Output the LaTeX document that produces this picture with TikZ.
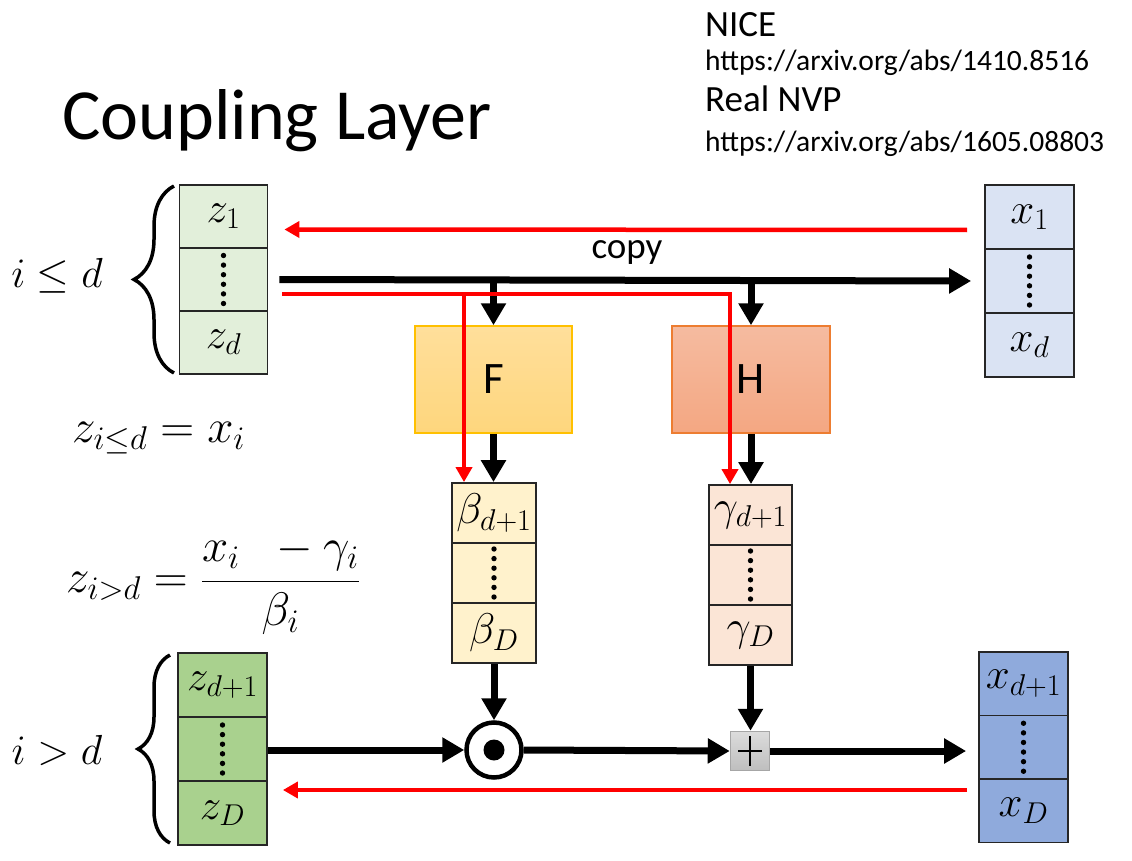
\RequirePackage{fix-cm}
\documentclass[tikz,border=0pt]{standalone}
\usepackage{fontspec}
\setmainfont{Carlito}
\usetikzlibrary{arrows.meta,calc,decorations.pathreplacing}
\definecolor{zAc}{HTML}{E2EFDA}
\definecolor{xAc}{HTML}{DAE3F3}
\definecolor{bc}{HTML}{FFF2CC}
\definecolor{gc}{HTML}{FBE5D6}
\definecolor{zBc}{HTML}{A9D18E}
\definecolor{xBc}{HTML}{8FAADC}
\definecolor{Ftop}{HTML}{FFDF9B}
\definecolor{Fbot}{HTML}{FED67D}
\definecolor{Fbd}{HTML}{FFC000}
\definecolor{Htop}{HTML}{F5BBA0}
\definecolor{Hbot}{HTML}{F4A782}
\definecolor{Hbd}{HTML}{ED7D31}
\definecolor{Ptop}{HTML}{DCDCDC}
\definecolor{Pbot}{HTML}{BEBEBE}
\definecolor{Pbd}{HTML}{A6A6A6}
\definecolor{cellbd}{HTML}{262626}
\begin{document}
\begin{tikzpicture}[x=1pt,y=-1pt,
  cell/.style={draw=cellbd, line width=1.8pt, inner sep=0pt, font=\fontsize{43}{43}\selectfont},
  blk/.style={line width=7pt, -{Triangle[length=22pt,width=24pt]}},
  redarr/.style={draw=red, line width=4.5pt, line join=miter, -{Triangle[length=15pt,width=16pt]}},
  fnbox/.style={line width=1.5pt, inner sep=0pt, minimum height=107pt, font=\fontsize{45}{45}\selectfont},
  bracestyle/.style={line width=3.5pt, decorate},
  lbl/.style={inner sep=0pt, font=\fontsize{42}{42}\selectfont},
  eq/.style={inner sep=0pt, font=\fontsize{47}{47}\selectfont}]
\useasboundingbox (0,0) rectangle (1132,861);

% title and references
\node[anchor=base west, inner sep=0pt, font=\fontsize{72}{72}\selectfont] (title) at (62,140) {Coupling Layer};
\node[anchor=base west, inner sep=0pt, font=\fontsize{37}{37}\selectfont] (nice) at (705,37) {NICE};
\node[anchor=base west, inner sep=0pt, font=\fontsize{29.5}{29.5}\selectfont] (url1) at (705,71) {https://arxiv.org/abs/1410.8516};
\node[anchor=base west, inner sep=0pt, font=\fontsize{37}{37}\selectfont] (nvp) at (705,112) {Real NVP};
\node[anchor=base west, inner sep=0pt, font=\fontsize{29.5}{29.5}\selectfont] (url2) at (705,152) {https://arxiv.org/abs/1605.08803};

% top z box
\node[cell, fill=zAc, minimum width=88pt, minimum height=63pt] (zA1) at (223.5,216.5) {$z_1$};
\node[cell, fill=zAc, minimum width=88pt, minimum height=63pt] (zA2) at (223.5,279.5) {};
\node[cell, fill=zAc, minimum width=88pt, minimum height=63pt] (zA3) at (223.5,342.5) {$z_d$};
% top x box
\node[cell, fill=xAc, minimum width=89pt, minimum height=64pt] (xA1) at (1029.5,217) {$x_1$};
\node[cell, fill=xAc, minimum width=89pt, minimum height=64pt] (xA2) at (1029.5,281) {};
\node[cell, fill=xAc, minimum width=89pt, minimum height=64pt] (xA3) at (1029.5,345) {$x_d$};
% beta box
\node[cell, fill=bc, minimum width=84pt, minimum height=60pt] (b1) at (494,513) {$\beta_{d+1}$};
\node[cell, fill=bc, minimum width=84pt, minimum height=60pt] (b2) at (494,573) {};
\node[cell, fill=bc, minimum width=84pt, minimum height=60pt] (b3) at (494,633) {$\beta_D$};
% gamma box
\node[cell, fill=gc, minimum width=83pt, minimum height=60pt] (g1) at (750.5,515) {$\gamma_{d+1}$};
\node[cell, fill=gc, minimum width=83pt, minimum height=60pt] (g2) at (750.5,575) {};
\node[cell, fill=gc, minimum width=83pt, minimum height=60pt] (g3) at (750.5,635) {$\gamma_D$};
% lower z box
\node[cell, fill=zBc, minimum width=89pt, minimum height=64pt] (zB1) at (222.5,685) {$z_{d+1}$};
\node[cell, fill=zBc, minimum width=89pt, minimum height=64pt] (zB2) at (222.5,749) {};
\node[cell, fill=zBc, minimum width=89pt, minimum height=64pt] (zB3) at (222.5,813) {$z_D$};
% lower x box
\node[cell, fill=xBc, minimum width=89pt, minimum height=63.5pt] (xB1) at (1023.5,683.75) {$x_{d+1}$};
\node[cell, fill=xBc, minimum width=89pt, minimum height=63.5pt] (xB2) at (1023.5,747.25) {};
\node[cell, fill=xBc, minimum width=89pt, minimum height=63.5pt] (xB3) at (1023.5,810.75) {$x_D$};

% vertical dots
\foreach \n in {zA2,xA2,b2,g2,zB2,xB2}{
  \foreach \k in {0,...,5}
    \fill ($(\n.center)+(0,{-24+9.6*\k})$) circle (2.7pt);
}

% F and H
\node[fnbox, draw=Fbd, top color=Ftop, bottom color=Fbot, minimum width=157pt] (F) at (493.5,379.5) {F};
\node[fnbox, draw=Hbd, top color=Htop, bottom color=Hbot, minimum width=158pt] (H) at (751,379.5) {H};

% operators
\node[circle, draw, line width=4.5pt, fill=white, minimum size=55pt, inner sep=0pt] (mul) at (494,750) {};
\fill (mul.center) circle (10.5pt);
\node[rectangle, draw=Pbd, line width=1.5pt, top color=Ptop, bottom color=Pbot, minimum size=39pt, inner sep=0pt] (add) at (750,751) {};
\draw[line width=2.6pt] ($(add.center)+(-12,0)$) -- ($(add.center)+(12,0)$);
\draw[line width=2.6pt] ($(add.center)+(0,-15)$) -- ($(add.center)+(0,15)$);

% braces and labels
\draw[bracestyle, decoration={brace, amplitude=40pt}] (174,373) -- (174,186);
\draw[bracestyle, decoration={brace, amplitude=32pt}] (170,843) -- (170,655);
\node[lbl] (le) at (57,276) {$i \le d$};
\node[lbl] (gt) at (57,750) {$i > d$};

% equations
\node[eq, anchor=base west] (f1) at (72,442) {$z_{i\le d} = x_i$};
\node[eq, anchor=west] (f2) at (66,584) {$z_{i>d} = \displaystyle\frac{x_i \;\;-\gamma_i}{\beta_i}$};

% copy arrows (black)
\draw[blk] ($(zA2.east)+(11,0)$) -- ($(xA2.west)+(-13,0)$);
\node[anchor=base, inner sep=0pt, font=\fontsize{37}{37}\selectfont] (copy) at (627,258) {copy};
\draw[blk] (F.north |- zA2.east) -- (F.north);
\draw[blk] (H.north |- zA2.east) -- (H.north);
\draw[blk] (F.south) -- (F.south |- b1.north);
\draw[blk] (H.south) -- (H.south |- g1.north);
\draw[blk] (b3.south) -- (mul.north);
\draw[blk] (g3.south) -- (g3.south |- add.north);
\draw[blk] (zB2.east |- mul.west) -- (mul.west);
\draw[blk] (mul.east) -- (add.west);
\draw[blk] (add.east) -- ($(add.east -| xB2.west)+(-12,0)$);

% red arrows
\coordinate (rs) at (282,294);
\coordinate (rf) at (464,294);
\coordinate (rh) at (730,294);
\draw[redarr] (rs) -- (rh) -- (rh |- g1.north);
\draw[redarr] (rf) -- (rf |- b1.north);
\draw[redarr] ($(xA1.west)+(-17,13)$) -- ($(zA1.east)+(16,13)$);
\coordinate (rb) at (967,790);
\draw[redarr] (rb) -- ($(rb -| zB3.east)+(15,0)$);
\end{tikzpicture}
\end{document}
